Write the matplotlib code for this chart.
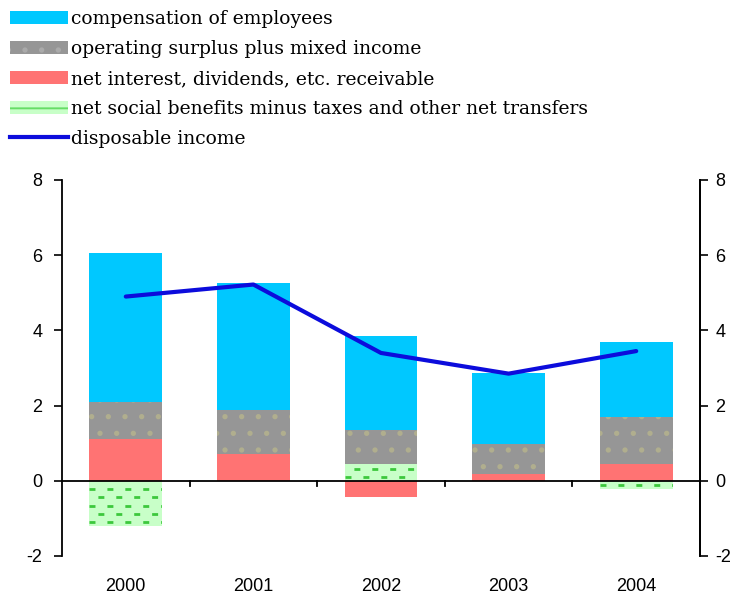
import numpy as np
import matplotlib.pyplot as plt
from matplotlib.patches import Patch
from matplotlib.lines import Line2D

plt.rcParams['hatch.linewidth'] = 1.4
plt.rcParams['axes.unicode_minus'] = False

years = ['2000', '2001', '2002', '2003', '2004']
comp = [3.95, 3.40, 2.50, 1.90, 2.00]          # compensation of employees
surplus = [1.00, 1.15, 0.90, 0.80, 1.25]       # operating surplus plus mixed income
interest = [1.10, 0.72, -0.42, 0.18, 0.45]     # net interest, dividends, etc.
social = [-1.20, 0.00, 0.45, 0.00, -0.22]      # net social benefits minus taxes...
disposable = [4.90, 5.22, 3.40, 2.85, 3.45]    # disposable income

labels = ['compensation of employees',
          'operating surplus plus mixed income',
          'net interest, dividends, etc. receivable',
          'net social benefits minus taxes and other net transfers',
          'disposable income']

fig = plt.figure(figsize=(7.32, 5.99), dpi=100)
ax = fig.add_axes([0.0847, 0.0718, 0.8716, 0.6277])

x = np.arange(len(years))
w = 0.57

# stacking order from the axis outwards
series = [
    (interest, dict(color='#FF7373', linewidth=0)),
    (social, dict(color='#C8FFC8', linewidth=0)),
    (surplus, dict(facecolor='#969696', edgecolor='#B0AE8E', hatch='.', linewidth=0)),
    (comp, dict(color='#00C8FF', linewidth=0)),
]
pos = np.zeros(len(years))
neg = np.zeros(len(years))
conts = []
for vals, style in series:
    v = np.array(vals)
    bottom = np.where(v >= 0, pos, neg)
    conts.append(ax.bar(x, v, w, bottom=bottom, zorder=2, **style))
    pos = pos + np.where(v >= 0, v, 0)
    neg = neg + np.where(v < 0, v, 0)

# staggered green dashes on the social benefits bars
lw = 2.0
for p in conts[1].patches:
    y0 = p.get_y()
    h = p.get_height()
    lo, hi = min(y0, y0 + h), max(y0, y0 + h)
    if hi - lo < 1e-6:
        continue
    k = 0
    yy = lo + 0.1
    while yy < hi:
        off = 0 if k % 2 == 0 else 6.5 / lw
        ln, = ax.plot([p.get_x(), p.get_x() + p.get_width()], [yy, yy],
                      color='#3CC83C', linewidth=lw, zorder=2.5,
                      linestyle=(off, (4.3 / lw, 8.6 / lw)), dash_capstyle='butt')
        ln.set_clip_path(p)
        yy += 0.22
        k += 1

ax.plot(x, disposable, color='#0C0CDC', linewidth=3, zorder=4,
        solid_joinstyle='round', solid_capstyle='round')

ax.set_xlim(-0.5, len(years) - 0.5)
ax.set_ylim(-2, 8)
ax.set_yticks(range(-2, 9, 2))
ax.tick_params(axis='y', direction='out', length=6, width=1.2, labelsize=13, pad=8)

# category axis drawn at zero, labels at the bottom
ax.axhline(0, color='black', linewidth=1.3, zorder=3)
for b in np.arange(0.5, len(years) - 0.5):
    ax.plot([b, b], [0, -0.13], color='black', linewidth=1.3, zorder=3)
ax.set_xticks(x)
ax.set_xticklabels(years)
ax.tick_params(axis='x', length=0, labelsize=13, pad=16)

for s in ['top', 'bottom']:
    ax.spines[s].set_visible(False)
ax.spines['left'].set_linewidth(1.3)
ax.spines['right'].set_linewidth(1.3)

ax2 = ax.twinx()
ax2.set_ylim(-2, 8)
ax2.set_yticks(range(-2, 9, 2))
ax2.tick_params(axis='y', direction='out', length=6, width=1.2, labelsize=13, pad=5)
for s in ['top', 'bottom', 'left']:
    ax2.spines[s].set_visible(False)
ax2.spines['right'].set_linewidth(1.3)

for t in ax.get_xticklabels() + ax.get_yticklabels() + ax2.get_yticklabels():
    t.set_fontfamily('Liberation Sans')

handles = [
    Patch(facecolor='#00C8FF', linewidth=0),
    Patch(facecolor='#969696', edgecolor='#AAAAAA', hatch='.', linewidth=0),
    Patch(facecolor='#FF7373', linewidth=0),
    Patch(facecolor='#C8FFC8', edgecolor='#66DD66', hatch='-', linewidth=0),
    Line2D([], [], color='#0C0CDC', linewidth=3),
]
fig.legend(handles, labels, loc='upper left', bbox_to_anchor=(0.0, 1.0),
           frameon=False, prop={'family': 'DejaVu Serif', 'size': 13.5},
           handlelength=3.1, handleheight=0.7, handletextpad=0.15,
           labelspacing=0.63, borderaxespad=0.15)

fig.savefig('out.png', dpi=100)
